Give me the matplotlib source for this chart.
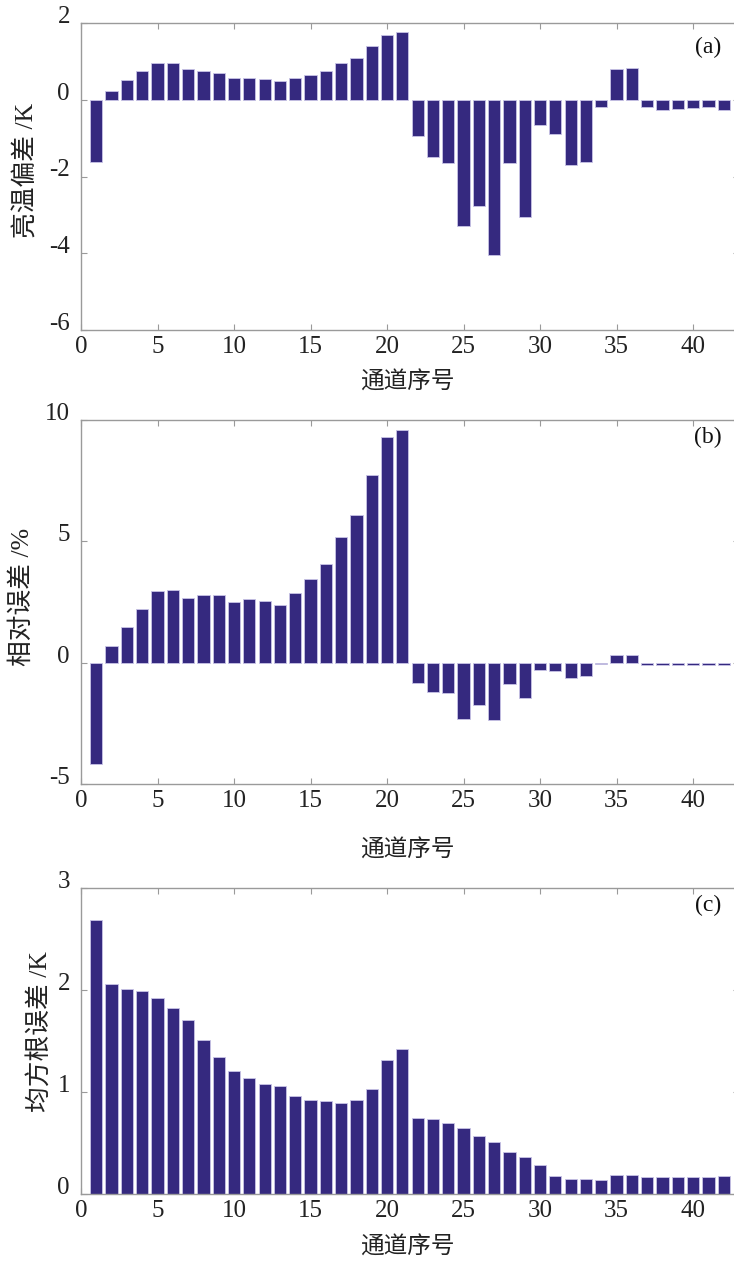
import matplotlib
matplotlib.use("Agg")
import matplotlib.pyplot as plt
import numpy as np

channels = list(range(1, 43))

bt_bias = [-1.61, 0.23, 0.51, 0.76, 0.96, 0.95, 0.79, 0.76, 0.70, 0.56,
           0.56, 0.55, 0.49, 0.56, 0.65, 0.75, 0.95, 1.09, 1.40, 1.70,
           1.77, -0.94, -1.48, -1.65, -3.30, -2.76, -4.04, -1.66, -3.05, -0.66,
           -0.89, -1.69, -1.61, -0.19, 0.80, 0.82, -0.20, -0.27, -0.23, -0.21,
           -0.19, -0.26]

rel_err = [-4.16, 0.67, 1.47, 2.23, 2.94, 2.98, 2.65, 2.79, 2.80, 2.50,
           2.61, 2.55, 2.39, 2.87, 3.45, 4.05, 5.16, 6.08, 7.73, 9.30,
           9.60, -0.84, -1.22, -1.25, -2.32, -1.74, -2.35, -0.87, -1.46, -0.29,
           -0.36, -0.62, -0.56, -0.04, 0.30, 0.30, -0.09, -0.08, -0.08, -0.08,
           -0.08, -0.11]

rmse = [2.69, 2.06, 2.01, 1.99, 1.92, 1.82, 1.71, 1.51, 1.34, 1.21,
        1.14, 1.08, 1.06, 0.96, 0.92, 0.91, 0.89, 0.92, 1.03, 1.31,
        1.42, 0.75, 0.74, 0.70, 0.65, 0.57, 0.51, 0.41, 0.36, 0.28,
        0.18, 0.15, 0.15, 0.14, 0.19, 0.19, 0.17, 0.17, 0.17, 0.17,
        0.17, 0.18]

xticks = [0, 5, 10, 15, 20, 25, 30, 35, 40]
xlabel = "通道序号"
ylabels = ["亮温偏差 /K", "相对误差 /%", "均方根误差 /K"]
panel_tags = ["(a)", "(b)", "(c)"]
yticks_list = [[-6, -4, -2, 0, 2], [-5, 0, 5, 10], [0, 1, 2, 3]]
ylims = [(-6, 2), (-5, 10), (0, 3)]

FAM = ["Liberation Serif", "Noto Sans CJK SC"]
plt.rcParams['font.family'] = FAM
plt.rcParams['axes.unicode_minus'] = False

W, H = 734, 1262
fig = plt.figure(figsize=(W / 100, H / 100), dpi=100)

# axes pixel boxes: (left, top, right, bottom)
boxes = [(81, 23, 739, 330), (81, 420, 739, 784), (81, 888, 739, 1194)]
xlabel_y = [382, 850, 1247]      # pixel centre of x label
ylabel_x = [27, 22, 40]          # pixel centre of y label
ylabel_yc = [170, 597, 1032]
tag_y = [47, 437, 905]
datas = [bt_bias, rel_err, rmse]
bar_color = "#35297f"
spine_col = "#9a9a9a"
txt_col = "#222222"

for i, (box, data) in enumerate(zip(boxes, datas)):
    l, t, r, b = box
    ax = fig.add_axes([l / W, 1 - b / H, (r - l) / W, (b - t) / H])
    ax.bar(channels, data, width=0.8, color=bar_color, edgecolor="#c8c4e6",
           linewidth=0.6, zorder=2)
    ax.set_xlim(0, 43)
    ax.set_ylim(*ylims[i])
    ax.set_xticks(xticks)
    ax.set_yticks(yticks_list[i])
    ax.tick_params(direction="in", top=True, right=True, length=4,
                   color=spine_col, labelsize=18, labelcolor=txt_col)
    ax.tick_params(axis="x", pad=4)
    ax.tick_params(axis="y", pad=8)
    for lab in ax.get_yticklabels():
        lab.set_va("baseline")
    for s in ax.spines.values():
        s.set_color(spine_col)
        s.set_linewidth(1.0)

    fig.text(407 / W, 1 - xlabel_y[i] / H, xlabel, fontsize=17,
             family=["Noto Sans CJK SC"], color=txt_col,
             ha="center", va="center")
    fig.text(ylabel_x[i] / W, 1 - ylabel_yc[i] / H, ylabels[i], fontsize=18.5,
             family=["Liberation Serif", "Noto Sans CJK SC"], color=txt_col,
             rotation=90, ha="center", va="center")
    fig.text(708 / W, 1 - tag_y[i] / H, panel_tags[i],
             fontsize=17, ha="center", va="center", color="#111111",
             family=["Liberation Serif"])

fig.savefig("out.png", dpi=100)
